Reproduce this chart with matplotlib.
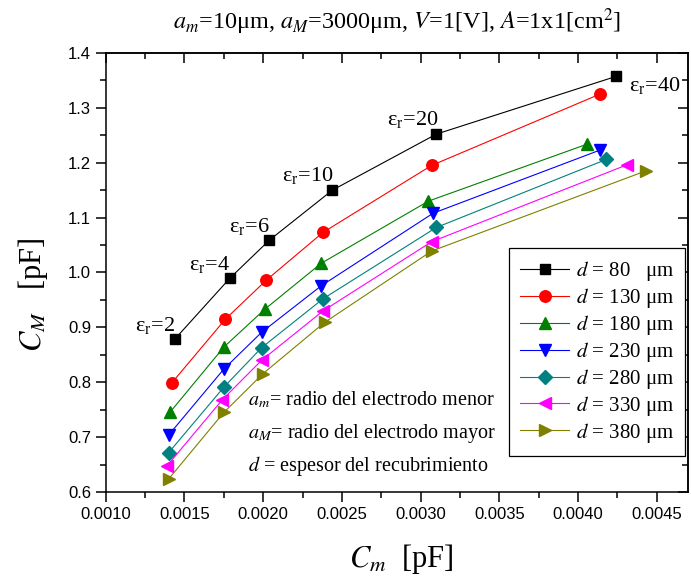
import matplotlib
matplotlib.use('Agg')
import matplotlib.pyplot as plt
from matplotlib.ticker import MultipleLocator, FormatStrFormatter

plt.rcParams['font.family'] = ['Liberation Serif', 'DejaVu Serif']
plt.rcParams['mathtext.fontset'] = 'stix'

# C_m [pF] and C_M [pF] for each coating thickness d, points at eps_r = 2, 4, 6, 10, 20, 40
eps_r = [2, 4, 6, 10, 20, 40]
thickness = [80, 130, 180, 230, 280, 330, 380]

cm_80 = [0.00144, 0.00179, 0.00204, 0.00244, 0.00310, 0.00424]
cM_80 = [0.879, 0.990, 1.059, 1.150, 1.252, 1.357]
cm_130 = [0.00142, 0.00176, 0.00202, 0.00238, 0.00307, 0.00414]
cM_130 = [0.799, 0.915, 0.986, 1.073, 1.195, 1.325]
cm_180 = [0.00141, 0.00175, 0.00201, 0.00237, 0.00305, 0.00406]
cM_180 = [0.746, 0.864, 0.933, 1.017, 1.130, 1.234]
cm_230 = [0.00140, 0.00175, 0.00199, 0.00237, 0.00308, 0.00414]
cM_230 = [0.704, 0.824, 0.891, 0.976, 1.108, 1.223]
cm_280 = [0.00140, 0.00175, 0.00199, 0.00238, 0.00310, 0.00418]
cM_280 = [0.672, 0.791, 0.863, 0.952, 1.082, 1.206]
cm_330 = [0.00139, 0.00174, 0.00199, 0.00238, 0.00307, 0.00431]
cM_330 = [0.648, 0.768, 0.840, 0.930, 1.056, 1.196]
cm_380 = [0.00140, 0.00175, 0.00200, 0.00239, 0.00307, 0.00443]
cM_380 = [0.624, 0.745, 0.816, 0.909, 1.039, 1.185]

xs = [cm_80, cm_130, cm_180, cm_230, cm_280, cm_330, cm_380]
ys = [cM_80, cM_130, cM_180, cM_230, cM_280, cM_330, cM_380]
colors = ['black', '#ff0000', '#008000', '#0000ff', '#008080', '#ff00ff', '#808000']
markers = ['s', 'o', '^', 'v', 'D', '<', '>']
msizes = [7, 8.3, 8.7, 8.7, 7.2, 8.7, 8.7]

fig = plt.figure(figsize=(6.91, 5.81), dpi=100)
ax = fig.add_axes([0.153, 0.153, 0.843, 0.756])

for x, y, c, m, ms, d in zip(xs, ys, colors, markers, msizes, thickness):
    if d == 80:
        lab = '$d$ = %d   μm' % d
    else:
        lab = '$d$ = %d μm' % d
    ax.plot(x, y, color=c, marker=m, markersize=ms, linewidth=0.8, label=lab)

# eps_r labels next to the d = 80 curve
offsets = [(0, 9.5), (0, 10), (0, 10), (1, 10.8), (1.5, 10.8), (9.5, -6.5)]
for i, e in enumerate(eps_r):
    ha = 'left' if i == len(eps_r) - 1 else 'right'
    ax.annotate('ε$_\\mathregular{r}$=%d' % e, (cm_80[i], cM_80[i]),
                xytext=offsets[i], textcoords='offset points',
                ha=ha, va='center', fontsize=16)

ax.set_xlim(0.0010, 0.0047)
ax.set_ylim(0.6, 1.4)
ax.xaxis.set_major_locator(MultipleLocator(0.0005))
ax.xaxis.set_minor_locator(MultipleLocator(0.00025))
ax.yaxis.set_major_locator(MultipleLocator(0.1))
ax.yaxis.set_minor_locator(MultipleLocator(0.05))
ax.xaxis.set_major_formatter(FormatStrFormatter('%.4f'))
ax.yaxis.set_major_formatter(FormatStrFormatter('%.1f'))
ax.tick_params(which='major', direction='out', length=7, width=1.1, labelsize=12)
ax.tick_params(which='minor', direction='out', length=4.5, width=1.1)
for lbl in ax.get_xticklabels() + ax.get_yticklabels():
    lbl.set_family('Liberation Sans')
for s in ax.spines.values():
    s.set_linewidth(1.1)

# top and right ticks point inward
top = ax.secondary_xaxis('top')
top.xaxis.set_major_locator(MultipleLocator(0.0005))
top.xaxis.set_minor_locator(MultipleLocator(0.00025))
top.tick_params(which='major', direction='in', length=7, width=1.1, labeltop=False)
top.tick_params(which='minor', direction='in', length=4.5, width=1.1)
right = ax.secondary_yaxis('right')
right.yaxis.set_major_locator(MultipleLocator(0.1))
right.yaxis.set_minor_locator(MultipleLocator(0.05))
right.tick_params(which='major', direction='in', length=7, width=1.1, labelright=False)
right.tick_params(which='minor', direction='in', length=4.5, width=1.1)
top.spines['top'].set_linewidth(1.1)
right.spines['right'].set_linewidth(1.1)

ax.set_xlabel('$C_m$  [pF]', fontsize=22)
ax.set_ylabel('$C_M$   [pF]', fontsize=22)
ax.xaxis.set_label_coords(0.507, -0.114)
ax.yaxis.set_label_coords(-0.096, 0.45)

fig.text(397 / 691, 1 - 22 / 581,
         '$a_m$=10μm, $a_M$=3000μm, $V$=1[V], $A$=1x1[cm$^2$]',
         ha='center', va='center', fontsize=17.5)

ax.text(0.244, 0.21, '$a_m$= radio del electrodo menor', transform=ax.transAxes,
        fontsize=14.5, va='center')
ax.text(0.244, 0.134, '$a_M$= radio del electrodo mayor', transform=ax.transAxes,
        fontsize=14.5, va='center')
ax.text(0.244, 0.059, '$d$ = espesor del recubrimiento', transform=ax.transAxes,
        fontsize=14.5, va='center')

leg = ax.legend(loc='lower right', bbox_to_anchor=(0.995, 0.082), borderaxespad=0,
                fontsize=15, handlelength=2.35, labelspacing=0.14, fancybox=False,
                edgecolor='black', framealpha=1, borderpad=0.55, handletextpad=0.3)
leg.get_frame().set_linewidth(0.9)

fig.savefig('out.png', dpi=100)
